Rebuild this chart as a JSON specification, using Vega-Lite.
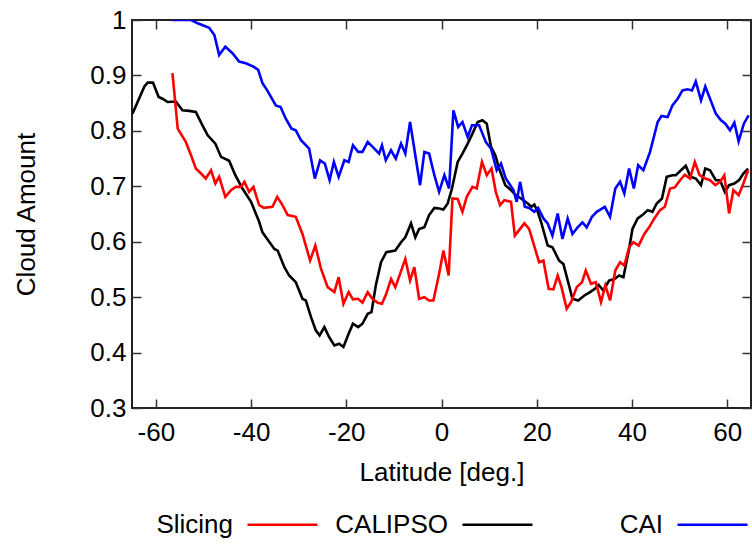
{
  "$schema": "https://vega.github.io/schema/vega-lite/v6.json",
  "width": 619,
  "height": 388,
  "autosize": {"type": "none"},
  "padding": {"left": 132, "top": 20, "right": 1, "bottom": 138},
  "background": "white",
  "config": {
    "font": "Liberation Sans",
    "view": {"stroke": "#222", "strokeWidth": 2},
    "axis": {
      "grid": false,
      "domain": false,
      "tickColor": "#333",
      "tickWidth": 1.5,
      "tickSize": -9,
      "labelFontSize": 26,
      "labelColor": "#000",
      "titleFontSize": 26,
      "titleFontWeight": "normal",
      "titleColor": "#000"
    },
    "legend": {
      "orient": "none",
      "legendX": 114,
      "legendY": 468,
      "direction": "horizontal",
      "columns": 3,
      "title": null,
      "symbolType": "stroke",
      "symbolSize": 4900,
      "symbolStrokeWidth": 2.5,
      "labelFontSize": 26,
      "labelColor": "#000",
      "labelAlign": "right",
      "labelOffset": -86,
      "gridAlign": "all",
      "columnPadding": 12
    }
  },
  "data": {
    "values": [
      {"series": "CALIPSO", "lat": -64.9, "cloud": 0.831},
      {"series": "CALIPSO", "lat": -62.4, "cloud": 0.880},
      {"series": "CALIPSO", "lat": -61.7, "cloud": 0.887},
      {"series": "CALIPSO", "lat": -60.6, "cloud": 0.887},
      {"series": "CALIPSO", "lat": -59.4, "cloud": 0.861},
      {"series": "CALIPSO", "lat": -58.6, "cloud": 0.858},
      {"series": "CALIPSO", "lat": -57.5, "cloud": 0.852},
      {"series": "CALIPSO", "lat": -55.8, "cloud": 0.853},
      {"series": "CALIPSO", "lat": -54.4, "cloud": 0.837},
      {"series": "CALIPSO", "lat": -53.0, "cloud": 0.836},
      {"series": "CALIPSO", "lat": -51.6, "cloud": 0.834},
      {"series": "CALIPSO", "lat": -50.2, "cloud": 0.810},
      {"series": "CALIPSO", "lat": -49.1, "cloud": 0.792},
      {"series": "CALIPSO", "lat": -47.5, "cloud": 0.777},
      {"series": "CALIPSO", "lat": -46.3, "cloud": 0.753},
      {"series": "CALIPSO", "lat": -44.6, "cloud": 0.746},
      {"series": "CALIPSO", "lat": -43.3, "cloud": 0.720},
      {"series": "CALIPSO", "lat": -41.8, "cloud": 0.696},
      {"series": "CALIPSO", "lat": -40.0, "cloud": 0.672},
      {"series": "CALIPSO", "lat": -38.3, "cloud": 0.636},
      {"series": "CALIPSO", "lat": -37.6, "cloud": 0.617},
      {"series": "CALIPSO", "lat": -36.6, "cloud": 0.605},
      {"series": "CALIPSO", "lat": -35.1, "cloud": 0.587},
      {"series": "CALIPSO", "lat": -34.4, "cloud": 0.584},
      {"series": "CALIPSO", "lat": -33.0, "cloud": 0.554},
      {"series": "CALIPSO", "lat": -32.0, "cloud": 0.539},
      {"series": "CALIPSO", "lat": -30.6, "cloud": 0.527},
      {"series": "CALIPSO", "lat": -29.2, "cloud": 0.497},
      {"series": "CALIPSO", "lat": -28.5, "cloud": 0.494},
      {"series": "CALIPSO", "lat": -27.4, "cloud": 0.464},
      {"series": "CALIPSO", "lat": -26.4, "cloud": 0.440},
      {"series": "CALIPSO", "lat": -25.6, "cloud": 0.431},
      {"series": "CALIPSO", "lat": -24.6, "cloud": 0.446},
      {"series": "CALIPSO", "lat": -23.6, "cloud": 0.428},
      {"series": "CALIPSO", "lat": -22.5, "cloud": 0.413},
      {"series": "CALIPSO", "lat": -21.5, "cloud": 0.416},
      {"series": "CALIPSO", "lat": -20.6, "cloud": 0.410},
      {"series": "CALIPSO", "lat": -19.5, "cloud": 0.434},
      {"series": "CALIPSO", "lat": -18.6, "cloud": 0.452},
      {"series": "CALIPSO", "lat": -17.5, "cloud": 0.446},
      {"series": "CALIPSO", "lat": -16.6, "cloud": 0.452},
      {"series": "CALIPSO", "lat": -15.5, "cloud": 0.470},
      {"series": "CALIPSO", "lat": -14.7, "cloud": 0.473},
      {"series": "CALIPSO", "lat": -13.8, "cloud": 0.521},
      {"series": "CALIPSO", "lat": -12.7, "cloud": 0.563},
      {"series": "CALIPSO", "lat": -11.6, "cloud": 0.581},
      {"series": "CALIPSO", "lat": -9.7, "cloud": 0.584},
      {"series": "CALIPSO", "lat": -8.5, "cloud": 0.599},
      {"series": "CALIPSO", "lat": -7.6, "cloud": 0.608},
      {"series": "CALIPSO", "lat": -6.4, "cloud": 0.633},
      {"series": "CALIPSO", "lat": -5.5, "cloud": 0.608},
      {"series": "CALIPSO", "lat": -4.7, "cloud": 0.623},
      {"series": "CALIPSO", "lat": -3.6, "cloud": 0.626},
      {"series": "CALIPSO", "lat": -2.6, "cloud": 0.648},
      {"series": "CALIPSO", "lat": -1.5, "cloud": 0.661},
      {"series": "CALIPSO", "lat": -0.5, "cloud": 0.660},
      {"series": "CALIPSO", "lat": 0.4, "cloud": 0.658},
      {"series": "CALIPSO", "lat": 1.3, "cloud": 0.669},
      {"series": "CALIPSO", "lat": 2.2, "cloud": 0.696},
      {"series": "CALIPSO", "lat": 3.4, "cloud": 0.744},
      {"series": "CALIPSO", "lat": 4.4, "cloud": 0.759},
      {"series": "CALIPSO", "lat": 5.5, "cloud": 0.777},
      {"series": "CALIPSO", "lat": 6.5, "cloud": 0.795},
      {"series": "CALIPSO", "lat": 7.6, "cloud": 0.816},
      {"series": "CALIPSO", "lat": 8.6, "cloud": 0.819},
      {"series": "CALIPSO", "lat": 9.5, "cloud": 0.813},
      {"series": "CALIPSO", "lat": 10.4, "cloud": 0.771},
      {"series": "CALIPSO", "lat": 11.3, "cloud": 0.756},
      {"series": "CALIPSO", "lat": 12.1, "cloud": 0.732},
      {"series": "CALIPSO", "lat": 13.4, "cloud": 0.702},
      {"series": "CALIPSO", "lat": 14.6, "cloud": 0.693},
      {"series": "CALIPSO", "lat": 15.6, "cloud": 0.684},
      {"series": "CALIPSO", "lat": 16.7, "cloud": 0.678},
      {"series": "CALIPSO", "lat": 18.1, "cloud": 0.669},
      {"series": "CALIPSO", "lat": 18.9, "cloud": 0.663},
      {"series": "CALIPSO", "lat": 19.5, "cloud": 0.667},
      {"series": "CALIPSO", "lat": 20.2, "cloud": 0.654},
      {"series": "CALIPSO", "lat": 20.9, "cloud": 0.636},
      {"series": "CALIPSO", "lat": 22.3, "cloud": 0.593},
      {"series": "CALIPSO", "lat": 23.3, "cloud": 0.590},
      {"series": "CALIPSO", "lat": 24.7, "cloud": 0.566},
      {"series": "CALIPSO", "lat": 25.6, "cloud": 0.560},
      {"series": "CALIPSO", "lat": 26.6, "cloud": 0.527},
      {"series": "CALIPSO", "lat": 27.5, "cloud": 0.497},
      {"series": "CALIPSO", "lat": 28.7, "cloud": 0.494},
      {"series": "CALIPSO", "lat": 30.0, "cloud": 0.503},
      {"series": "CALIPSO", "lat": 31.2, "cloud": 0.509},
      {"series": "CALIPSO", "lat": 32.2, "cloud": 0.515},
      {"series": "CALIPSO", "lat": 33.0, "cloud": 0.522},
      {"series": "CALIPSO", "lat": 34.0, "cloud": 0.512},
      {"series": "CALIPSO", "lat": 35.2, "cloud": 0.530},
      {"series": "CALIPSO", "lat": 36.4, "cloud": 0.533},
      {"series": "CALIPSO", "lat": 37.3, "cloud": 0.539},
      {"series": "CALIPSO", "lat": 38.2, "cloud": 0.536},
      {"series": "CALIPSO", "lat": 39.4, "cloud": 0.587},
      {"series": "CALIPSO", "lat": 40.1, "cloud": 0.623},
      {"series": "CALIPSO", "lat": 41.2, "cloud": 0.642},
      {"series": "CALIPSO", "lat": 42.2, "cloud": 0.648},
      {"series": "CALIPSO", "lat": 43.3, "cloud": 0.657},
      {"series": "CALIPSO", "lat": 44.3, "cloud": 0.654},
      {"series": "CALIPSO", "lat": 45.2, "cloud": 0.669},
      {"series": "CALIPSO", "lat": 46.3, "cloud": 0.678},
      {"series": "CALIPSO", "lat": 47.3, "cloud": 0.717},
      {"series": "CALIPSO", "lat": 48.5, "cloud": 0.720},
      {"series": "CALIPSO", "lat": 49.2, "cloud": 0.720},
      {"series": "CALIPSO", "lat": 50.3, "cloud": 0.729},
      {"series": "CALIPSO", "lat": 51.3, "cloud": 0.737},
      {"series": "CALIPSO", "lat": 52.3, "cloud": 0.717},
      {"series": "CALIPSO", "lat": 53.4, "cloud": 0.714},
      {"series": "CALIPSO", "lat": 54.5, "cloud": 0.702},
      {"series": "CALIPSO", "lat": 55.4, "cloud": 0.732},
      {"series": "CALIPSO", "lat": 56.4, "cloud": 0.729},
      {"series": "CALIPSO", "lat": 57.6, "cloud": 0.711},
      {"series": "CALIPSO", "lat": 58.5, "cloud": 0.711},
      {"series": "CALIPSO", "lat": 59.5, "cloud": 0.690},
      {"series": "CALIPSO", "lat": 60.4, "cloud": 0.702},
      {"series": "CALIPSO", "lat": 61.5, "cloud": 0.705},
      {"series": "CALIPSO", "lat": 62.5, "cloud": 0.711},
      {"series": "CALIPSO", "lat": 63.4, "cloud": 0.723},
      {"series": "CALIPSO", "lat": 64.4, "cloud": 0.732},

      {"series": "Slicing", "lat": -56.5, "cloud": 0.904},
      {"series": "Slicing", "lat": -55.4, "cloud": 0.804},
      {"series": "Slicing", "lat": -53.7, "cloud": 0.780},
      {"series": "Slicing", "lat": -52.6, "cloud": 0.756},
      {"series": "Slicing", "lat": -51.6, "cloud": 0.732},
      {"series": "Slicing", "lat": -50.5, "cloud": 0.723},
      {"series": "Slicing", "lat": -49.5, "cloud": 0.714},
      {"series": "Slicing", "lat": -48.4, "cloud": 0.729},
      {"series": "Slicing", "lat": -47.5, "cloud": 0.705},
      {"series": "Slicing", "lat": -46.7, "cloud": 0.717},
      {"series": "Slicing", "lat": -45.4, "cloud": 0.681},
      {"series": "Slicing", "lat": -44.2, "cloud": 0.693},
      {"series": "Slicing", "lat": -43.2, "cloud": 0.699},
      {"series": "Slicing", "lat": -42.1, "cloud": 0.699},
      {"series": "Slicing", "lat": -41.4, "cloud": 0.708},
      {"series": "Slicing", "lat": -40.4, "cloud": 0.690},
      {"series": "Slicing", "lat": -39.5, "cloud": 0.699},
      {"series": "Slicing", "lat": -38.3, "cloud": 0.666},
      {"series": "Slicing", "lat": -37.3, "cloud": 0.661},
      {"series": "Slicing", "lat": -35.5, "cloud": 0.663},
      {"series": "Slicing", "lat": -34.5, "cloud": 0.681},
      {"series": "Slicing", "lat": -33.4, "cloud": 0.666},
      {"series": "Slicing", "lat": -32.3, "cloud": 0.648},
      {"series": "Slicing", "lat": -30.6, "cloud": 0.645},
      {"series": "Slicing", "lat": -29.2, "cloud": 0.614},
      {"series": "Slicing", "lat": -27.6, "cloud": 0.566},
      {"series": "Slicing", "lat": -26.5, "cloud": 0.593},
      {"series": "Slicing", "lat": -25.3, "cloud": 0.551},
      {"series": "Slicing", "lat": -23.9, "cloud": 0.518},
      {"series": "Slicing", "lat": -22.5, "cloud": 0.509},
      {"series": "Slicing", "lat": -21.6, "cloud": 0.536},
      {"series": "Slicing", "lat": -20.6, "cloud": 0.488},
      {"series": "Slicing", "lat": -19.5, "cloud": 0.509},
      {"series": "Slicing", "lat": -18.6, "cloud": 0.496},
      {"series": "Slicing", "lat": -17.5, "cloud": 0.497},
      {"series": "Slicing", "lat": -16.6, "cloud": 0.490},
      {"series": "Slicing", "lat": -15.5, "cloud": 0.509},
      {"series": "Slicing", "lat": -14.5, "cloud": 0.497},
      {"series": "Slicing", "lat": -13.4, "cloud": 0.490},
      {"series": "Slicing", "lat": -12.5, "cloud": 0.488},
      {"series": "Slicing", "lat": -11.6, "cloud": 0.506},
      {"series": "Slicing", "lat": -10.6, "cloud": 0.533},
      {"series": "Slicing", "lat": -9.7, "cloud": 0.518},
      {"series": "Slicing", "lat": -8.7, "cloud": 0.542},
      {"series": "Slicing", "lat": -7.6, "cloud": 0.569},
      {"series": "Slicing", "lat": -6.6, "cloud": 0.530},
      {"series": "Slicing", "lat": -5.7, "cloud": 0.554},
      {"series": "Slicing", "lat": -4.7, "cloud": 0.497},
      {"series": "Slicing", "lat": -3.6, "cloud": 0.500},
      {"series": "Slicing", "lat": -2.6, "cloud": 0.494},
      {"series": "Slicing", "lat": -1.7, "cloud": 0.494},
      {"series": "Slicing", "lat": -0.5, "cloud": 0.542},
      {"series": "Slicing", "lat": 0.4, "cloud": 0.584},
      {"series": "Slicing", "lat": 1.5, "cloud": 0.539},
      {"series": "Slicing", "lat": 2.3, "cloud": 0.678},
      {"series": "Slicing", "lat": 3.4, "cloud": 0.677},
      {"series": "Slicing", "lat": 4.4, "cloud": 0.654},
      {"series": "Slicing", "lat": 5.3, "cloud": 0.681},
      {"series": "Slicing", "lat": 6.5, "cloud": 0.699},
      {"series": "Slicing", "lat": 7.4, "cloud": 0.696},
      {"series": "Slicing", "lat": 8.5, "cloud": 0.744},
      {"series": "Slicing", "lat": 9.5, "cloud": 0.720},
      {"series": "Slicing", "lat": 10.5, "cloud": 0.732},
      {"series": "Slicing", "lat": 11.4, "cloud": 0.690},
      {"series": "Slicing", "lat": 12.3, "cloud": 0.666},
      {"series": "Slicing", "lat": 13.2, "cloud": 0.675},
      {"series": "Slicing", "lat": 14.6, "cloud": 0.672},
      {"series": "Slicing", "lat": 15.4, "cloud": 0.611},
      {"series": "Slicing", "lat": 17.4, "cloud": 0.633},
      {"series": "Slicing", "lat": 18.4, "cloud": 0.623},
      {"series": "Slicing", "lat": 20.5, "cloud": 0.563},
      {"series": "Slicing", "lat": 21.4, "cloud": 0.566},
      {"series": "Slicing", "lat": 22.5, "cloud": 0.515},
      {"series": "Slicing", "lat": 23.5, "cloud": 0.514},
      {"series": "Slicing", "lat": 24.4, "cloud": 0.539},
      {"series": "Slicing", "lat": 25.2, "cloud": 0.518},
      {"series": "Slicing", "lat": 26.3, "cloud": 0.479},
      {"series": "Slicing", "lat": 27.2, "cloud": 0.491},
      {"series": "Slicing", "lat": 28.4, "cloud": 0.518},
      {"series": "Slicing", "lat": 29.5, "cloud": 0.527},
      {"series": "Slicing", "lat": 30.3, "cloud": 0.548},
      {"series": "Slicing", "lat": 31.4, "cloud": 0.524},
      {"series": "Slicing", "lat": 32.4, "cloud": 0.527},
      {"series": "Slicing", "lat": 33.5, "cloud": 0.491},
      {"series": "Slicing", "lat": 34.4, "cloud": 0.521},
      {"series": "Slicing", "lat": 35.4, "cloud": 0.494},
      {"series": "Slicing", "lat": 36.5, "cloud": 0.548},
      {"series": "Slicing", "lat": 37.5, "cloud": 0.563},
      {"series": "Slicing", "lat": 38.4, "cloud": 0.557},
      {"series": "Slicing", "lat": 39.4, "cloud": 0.590},
      {"series": "Slicing", "lat": 40.3, "cloud": 0.599},
      {"series": "Slicing", "lat": 41.4, "cloud": 0.593},
      {"series": "Slicing", "lat": 42.6, "cloud": 0.614},
      {"series": "Slicing", "lat": 43.6, "cloud": 0.626},
      {"series": "Slicing", "lat": 44.7, "cloud": 0.642},
      {"series": "Slicing", "lat": 45.9, "cloud": 0.657},
      {"series": "Slicing", "lat": 46.9, "cloud": 0.663},
      {"series": "Slicing", "lat": 48.0, "cloud": 0.696},
      {"series": "Slicing", "lat": 49.0, "cloud": 0.698},
      {"series": "Slicing", "lat": 50.1, "cloud": 0.711},
      {"series": "Slicing", "lat": 51.1, "cloud": 0.721},
      {"series": "Slicing", "lat": 52.2, "cloud": 0.714},
      {"series": "Slicing", "lat": 53.2, "cloud": 0.744},
      {"series": "Slicing", "lat": 54.2, "cloud": 0.720},
      {"series": "Slicing", "lat": 55.4, "cloud": 0.714},
      {"series": "Slicing", "lat": 56.4, "cloud": 0.711},
      {"series": "Slicing", "lat": 57.5, "cloud": 0.702},
      {"series": "Slicing", "lat": 58.5, "cloud": 0.708},
      {"series": "Slicing", "lat": 59.4, "cloud": 0.720},
      {"series": "Slicing", "lat": 60.4, "cloud": 0.651},
      {"series": "Slicing", "lat": 61.3, "cloud": 0.693},
      {"series": "Slicing", "lat": 62.4, "cloud": 0.684},
      {"series": "Slicing", "lat": 63.4, "cloud": 0.705},
      {"series": "Slicing", "lat": 64.4, "cloud": 0.729},

      {"series": "CAI", "lat": -56.5, "cloud": 1.0},
      {"series": "CAI", "lat": -52.6, "cloud": 1.0},
      {"series": "CAI", "lat": -51.2, "cloud": 0.994},
      {"series": "CAI", "lat": -48.8, "cloud": 0.986},
      {"series": "CAI", "lat": -47.7, "cloud": 0.973},
      {"series": "CAI", "lat": -46.7, "cloud": 0.937},
      {"series": "CAI", "lat": -45.4, "cloud": 0.952},
      {"series": "CAI", "lat": -43.9, "cloud": 0.940},
      {"series": "CAI", "lat": -42.5, "cloud": 0.925},
      {"series": "CAI", "lat": -41.1, "cloud": 0.922},
      {"series": "CAI", "lat": -39.5, "cloud": 0.916},
      {"series": "CAI", "lat": -38.5, "cloud": 0.910},
      {"series": "CAI", "lat": -37.6, "cloud": 0.886},
      {"series": "CAI", "lat": -36.6, "cloud": 0.873},
      {"series": "CAI", "lat": -34.8, "cloud": 0.846},
      {"series": "CAI", "lat": -33.8, "cloud": 0.843},
      {"series": "CAI", "lat": -32.7, "cloud": 0.822},
      {"series": "CAI", "lat": -31.5, "cloud": 0.804},
      {"series": "CAI", "lat": -30.6, "cloud": 0.801},
      {"series": "CAI", "lat": -29.5, "cloud": 0.783},
      {"series": "CAI", "lat": -27.8, "cloud": 0.768},
      {"series": "CAI", "lat": -26.6, "cloud": 0.714},
      {"series": "CAI", "lat": -25.5, "cloud": 0.747},
      {"series": "CAI", "lat": -24.5, "cloud": 0.741},
      {"series": "CAI", "lat": -23.5, "cloud": 0.711},
      {"series": "CAI", "lat": -22.6, "cloud": 0.744},
      {"series": "CAI", "lat": -21.6, "cloud": 0.717},
      {"series": "CAI", "lat": -20.4, "cloud": 0.747},
      {"series": "CAI", "lat": -19.5, "cloud": 0.744},
      {"series": "CAI", "lat": -18.6, "cloud": 0.774},
      {"series": "CAI", "lat": -17.5, "cloud": 0.762},
      {"series": "CAI", "lat": -16.6, "cloud": 0.762},
      {"series": "CAI", "lat": -15.5, "cloud": 0.780},
      {"series": "CAI", "lat": -14.1, "cloud": 0.768},
      {"series": "CAI", "lat": -13.1, "cloud": 0.759},
      {"series": "CAI", "lat": -12.5, "cloud": 0.774},
      {"series": "CAI", "lat": -11.7, "cloud": 0.747},
      {"series": "CAI", "lat": -10.6, "cloud": 0.765},
      {"series": "CAI", "lat": -9.6, "cloud": 0.750},
      {"series": "CAI", "lat": -8.5, "cloud": 0.777},
      {"series": "CAI", "lat": -7.6, "cloud": 0.759},
      {"series": "CAI", "lat": -6.6, "cloud": 0.816},
      {"series": "CAI", "lat": -5.5, "cloud": 0.756},
      {"series": "CAI", "lat": -4.5, "cloud": 0.702},
      {"series": "CAI", "lat": -3.6, "cloud": 0.762},
      {"series": "CAI", "lat": -2.6, "cloud": 0.759},
      {"series": "CAI", "lat": -1.5, "cloud": 0.720},
      {"series": "CAI", "lat": -0.5, "cloud": 0.690},
      {"series": "CAI", "lat": 0.6, "cloud": 0.720},
      {"series": "CAI", "lat": 1.6, "cloud": 0.696},
      {"series": "CAI", "lat": 2.5, "cloud": 0.837},
      {"series": "CAI", "lat": 3.5, "cloud": 0.807},
      {"series": "CAI", "lat": 4.4, "cloud": 0.816},
      {"series": "CAI", "lat": 5.5, "cloud": 0.789},
      {"series": "CAI", "lat": 6.4, "cloud": 0.810},
      {"series": "CAI", "lat": 7.9, "cloud": 0.810},
      {"series": "CAI", "lat": 9.3, "cloud": 0.780},
      {"series": "CAI", "lat": 10.4, "cloud": 0.768},
      {"series": "CAI", "lat": 11.6, "cloud": 0.729},
      {"series": "CAI", "lat": 12.5, "cloud": 0.741},
      {"series": "CAI", "lat": 13.5, "cloud": 0.714},
      {"series": "CAI", "lat": 14.2, "cloud": 0.705},
      {"series": "CAI", "lat": 15.1, "cloud": 0.693},
      {"series": "CAI", "lat": 15.8, "cloud": 0.672},
      {"series": "CAI", "lat": 16.5, "cloud": 0.708},
      {"series": "CAI", "lat": 17.5, "cloud": 0.663},
      {"series": "CAI", "lat": 18.4, "cloud": 0.661},
      {"series": "CAI", "lat": 19.5, "cloud": 0.654},
      {"series": "CAI", "lat": 20.3, "cloud": 0.661},
      {"series": "CAI", "lat": 21.4, "cloud": 0.642},
      {"series": "CAI", "lat": 22.3, "cloud": 0.633},
      {"series": "CAI", "lat": 23.3, "cloud": 0.611},
      {"series": "CAI", "lat": 24.4, "cloud": 0.651},
      {"series": "CAI", "lat": 25.4, "cloud": 0.605},
      {"series": "CAI", "lat": 26.5, "cloud": 0.642},
      {"series": "CAI", "lat": 27.5, "cloud": 0.614},
      {"series": "CAI", "lat": 28.6, "cloud": 0.626},
      {"series": "CAI", "lat": 29.6, "cloud": 0.635},
      {"series": "CAI", "lat": 30.5, "cloud": 0.626},
      {"series": "CAI", "lat": 31.6, "cloud": 0.645},
      {"series": "CAI", "lat": 32.6, "cloud": 0.654},
      {"series": "CAI", "lat": 34.3, "cloud": 0.663},
      {"series": "CAI", "lat": 35.4, "cloud": 0.645},
      {"series": "CAI", "lat": 36.5, "cloud": 0.696},
      {"series": "CAI", "lat": 37.5, "cloud": 0.708},
      {"series": "CAI", "lat": 38.4, "cloud": 0.687},
      {"series": "CAI", "lat": 39.4, "cloud": 0.732},
      {"series": "CAI", "lat": 40.4, "cloud": 0.696},
      {"series": "CAI", "lat": 41.3, "cloud": 0.738},
      {"series": "CAI", "lat": 42.4, "cloud": 0.729},
      {"series": "CAI", "lat": 43.8, "cloud": 0.762},
      {"series": "CAI", "lat": 45.4, "cloud": 0.816},
      {"series": "CAI", "lat": 46.2, "cloud": 0.827},
      {"series": "CAI", "lat": 47.5, "cloud": 0.825},
      {"series": "CAI", "lat": 48.5, "cloud": 0.846},
      {"series": "CAI", "lat": 49.6, "cloud": 0.858},
      {"series": "CAI", "lat": 50.6, "cloud": 0.873},
      {"series": "CAI", "lat": 51.7, "cloud": 0.875},
      {"series": "CAI", "lat": 52.6, "cloud": 0.873},
      {"series": "CAI", "lat": 53.4, "cloud": 0.889},
      {"series": "CAI", "lat": 54.5, "cloud": 0.855},
      {"series": "CAI", "lat": 55.4, "cloud": 0.880},
      {"series": "CAI", "lat": 56.4, "cloud": 0.858},
      {"series": "CAI", "lat": 57.6, "cloud": 0.831},
      {"series": "CAI", "lat": 58.7, "cloud": 0.819},
      {"series": "CAI", "lat": 59.6, "cloud": 0.813},
      {"series": "CAI", "lat": 60.6, "cloud": 0.801},
      {"series": "CAI", "lat": 61.5, "cloud": 0.815},
      {"series": "CAI", "lat": 62.4, "cloud": 0.781},
      {"series": "CAI", "lat": 63.5, "cloud": 0.813},
      {"series": "CAI", "lat": 64.5, "cloud": 0.828}
    ]
  },
  "layer": [
    {
      "mark": {"type": "line", "strokeWidth": 2.6, "clip": true},
      "encoding": {
        "x": {
          "field": "lat", "type": "quantitative",
          "scale": {"domain": [-65, 65], "nice": false, "zero": false},
          "axis": {"orient": "bottom", "values": [-60, -40, -20, 0, 20, 40, 60], "labelExpr": "datum.value + ''", "labelPadding": 20, "title": "Latitude [deg.]", "titlePadding": 14}
        },
        "y": {
          "field": "cloud", "type": "quantitative",
          "scale": {"domain": [0.3, 1], "nice": false, "zero": false},
          "axis": {"orient": "left", "values": [0.3, 0.4, 0.5, 0.6, 0.7, 0.8, 0.9, 1], "format": ".1~f", "labelPadding": 15, "title": "Cloud Amount", "titlePadding": 50}
        },
        "color": {
          "field": "series", "type": "nominal",
          "scale": {"domain": ["Slicing", "CALIPSO", "CAI"], "range": ["#ff0000", "#000000", "#0000ff"]}
        }
      }
    },
    {
      "mark": {"type": "line", "strokeOpacity": 0},
      "encoding": {
        "x": {
          "field": "lat", "type": "quantitative",
          "axis": {"orient": "top", "values": [-60, -40, -20, 0, 20, 40, 60], "labels": false, "title": null}
        },
        "y": {
          "field": "cloud", "type": "quantitative",
          "axis": {"orient": "right", "values": [0.3, 0.4, 0.5, 0.6, 0.7, 0.8, 0.9, 1], "labels": false, "title": null}
        },
        "detail": {"field": "series", "type": "nominal"}
      }
    }
  ]
}
